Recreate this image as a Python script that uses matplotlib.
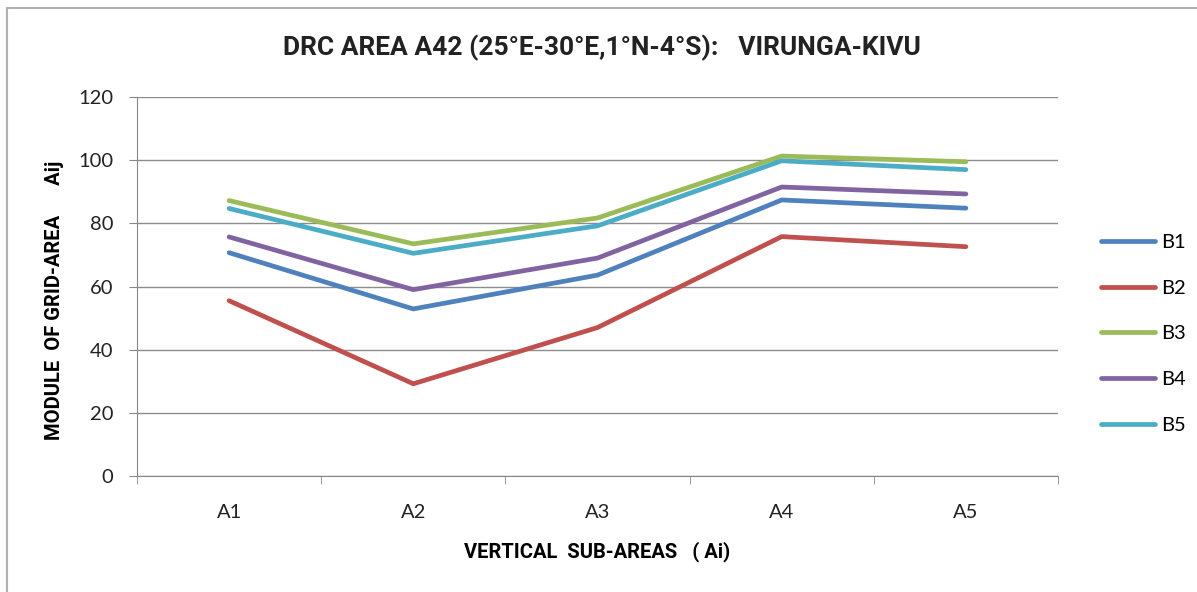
import matplotlib
matplotlib.use("Agg")
from matplotlib import pyplot as plt
from matplotlib.patches import Rectangle
import numpy as np

categories = ["A1", "A2", "A3", "A4", "A5"]
series_names = ["B1", "B2", "B3", "B4", "B5"]
b1 = [70.7, 52.9, 63.6, 87.4, 84.8]
b2 = [55.5, 29.2, 47.0, 75.8, 72.6]
b3 = [87.2, 73.5, 81.7, 101.3, 99.5]
b4 = [75.7, 59.0, 69.0, 91.5, 89.3]
b5 = [84.7, 70.5, 79.2, 99.8, 97.0]
colors = ["#4F81BD", "#C0504D", "#9BBB59", "#8064A2", "#4BACC6"]

plt.rcParams['font.family'] = ['Lato', 'DejaVu Sans']
bold_font = ['Roboto', 'DejaVu Sans']

fig = plt.figure(figsize=(11.97, 5.92), dpi=100)
fig.patches.append(Rectangle((7 / 1197, -0.01), 1.2, 1 - 8 / 592 + 0.01,
                             transform=fig.transFigure, fill=False,
                             edgecolor="#B0B0B0", linewidth=1.5))
ax = fig.add_axes([137 / 1197, 1 - 476 / 592, (1058 - 137) / 1197, (476 - 97) / 592])

x = np.arange(len(categories))
for name, vals, c in zip(series_names, [b1, b2, b3, b4, b5], colors):
    ax.plot(x, vals, color=c, linewidth=3.4, label=name, solid_capstyle='round')

ax.set_xlim(-0.5, len(categories) - 0.5)
ax.set_ylim(0, 120)
ax.set_yticks(np.arange(0, 121, 20))
ax.set_xticks(x)
ax.set_xticklabels(categories)
ax.set_xticks(np.arange(-0.5, len(categories), 1), minor=True)
ax.tick_params(axis='x', which='major', length=0, pad=20, labelsize=14.5, colors="#222222")
ax.tick_params(axis='x', which='minor', length=6, color="#888888")
ax.tick_params(axis='y', length=6, color="#888888", labelsize=14.5, colors="#222222", pad=11)
ax.grid(axis='y', color="#8C8C8C", linewidth=1)
ax.set_axisbelow(True)
for s in ["top", "right"]:
    ax.spines[s].set_visible(False)
for s in ["left", "bottom"]:
    ax.spines[s].set_color("#888888")

ax.set_xlabel("VERTICAL  SUB-AREAS   ( Ai)", fontsize=14.5, fontweight='bold',
              family=bold_font, labelpad=15)
# y label placed directly in figure pixels
fig.text(55 / 1197, 1 - 300 / 592, "MODULE  OF GRID-AREA      Aij", rotation=90,
         ha='center', va='center', fontsize=14.5, fontweight='bold',
         family=bold_font, color="black")
fig.text(0.503, 1 - 48 / 592, "DRC AREA A42 (25°E-30°E,1°N-4°S):   VIRUNGA-KIVU",
         ha='center', va='center', fontsize=19, fontweight='bold',
         family=bold_font, color="#222222")

ax.legend(loc='center left', bbox_to_anchor=(1.027, 0.375), frameon=False,
          fontsize=14.5, handlelength=2.7, labelspacing=1.42, handletextpad=0.3)

fig.savefig("out.png", dpi=100)
